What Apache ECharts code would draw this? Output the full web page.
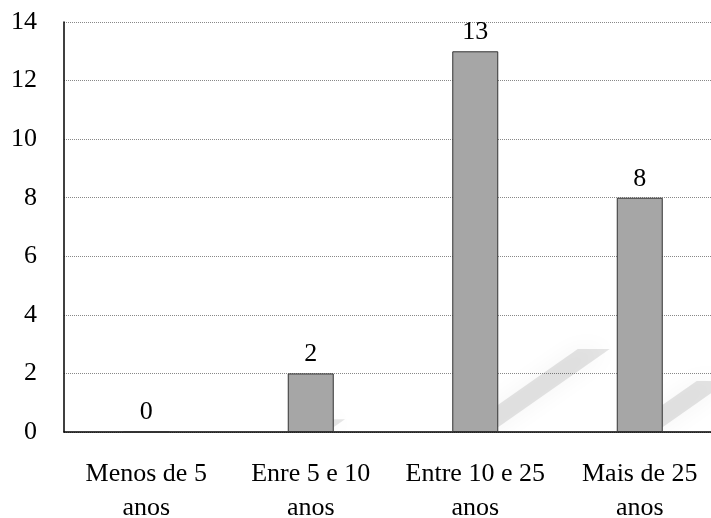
<!DOCTYPE html>
<html>
<head>
<meta charset="utf-8">
<script src="https://cdn.jsdelivr.net/npm/echarts@6/dist/echarts.min.js"></script>
<style>
html,body{margin:0;padding:0;background:#fff;}
#chart{width:711px;height:518px;}
</style>
</head>
<body>
<div id="chart"></div>
<script>
const categories = ['Menos de 5\nanos', 'Enre 5 e 10\nanos', 'Entre 10 e 25\nanos', 'Mais de 25\nanos'];
const values = [0, 2, 13, 8];
const yMin = 0, yMax = 14, yStep = 2;

const chart = echarts.init(document.getElementById('chart'));
const font = 'Liberation Serif';

chart.setOption({
  animation: false,
  backgroundColor: '#fff',
  grid: { left: 64, right: -11, top: 22, bottom: 86, containLabel: false, outerBoundsMode: 'none' },
  xAxis: {
    type: 'category',
    data: categories,
    axisTick: { show: false },
    axisLine: { lineStyle: { color: '#000', width: 1.5 } },
    axisLabel: { color: '#000', fontFamily: font, fontSize: 26, lineHeight: 34, margin: 25, interval: 0 }
  },
  yAxis: {
    type: 'value',
    min: yMin, max: yMax, interval: yStep,
    axisLine: { show: true, lineStyle: { color: '#000', width: 1.5 } },
    axisTick: { show: false },
    axisLabel: { color: '#000', fontFamily: font, fontSize: 26, margin: 27 },
    splitLine: { show: true, lineStyle: { color: '#888', type: [1, 1], width: 1 } }
  },
  series: [
    {
      type: 'custom',
      z: 1,
      clip: true,
      silent: true,
      data: values.map((v, i) => [i, v]),
      renderItem: function (params, api) {
        const idx = api.value(0), v = api.value(1);
        const base = api.coord([idx, 0]);
        const top = api.coord([idx, v]);
        const h = base[1] - top[1];
        if (h <= 0) return;
        const L = h * 0.38;
        const dx = L * Math.cos(35 * Math.PI / 180);
        const dy = L * Math.sin(35 * Math.PI / 180);
        const xl = base[0] - 16, xr = base[0] + 16, y0 = base[1];
        return {
          type: 'polygon',
          shape: { points: [[xl, y0], [xr, y0], [xr + dx, y0 - dy], [xl + dx, y0 - dy]] },
          style: { fill: 'rgba(0,0,0,0.10)', shadowBlur: 24, shadowColor: 'rgba(0,0,0,0.45)' }
        };
      }
    },
    {
      type: 'bar',
      z: 2,
      data: values,
      barWidth: 46,
      itemStyle: { color: '#a6a6a6', borderColor: '#333', borderWidth: 1 },
      label: { show: true, position: 'top', distance: 6, color: '#000', fontFamily: font, fontSize: 26 }
    }
  ]
});
</script>
</body>
</html>
